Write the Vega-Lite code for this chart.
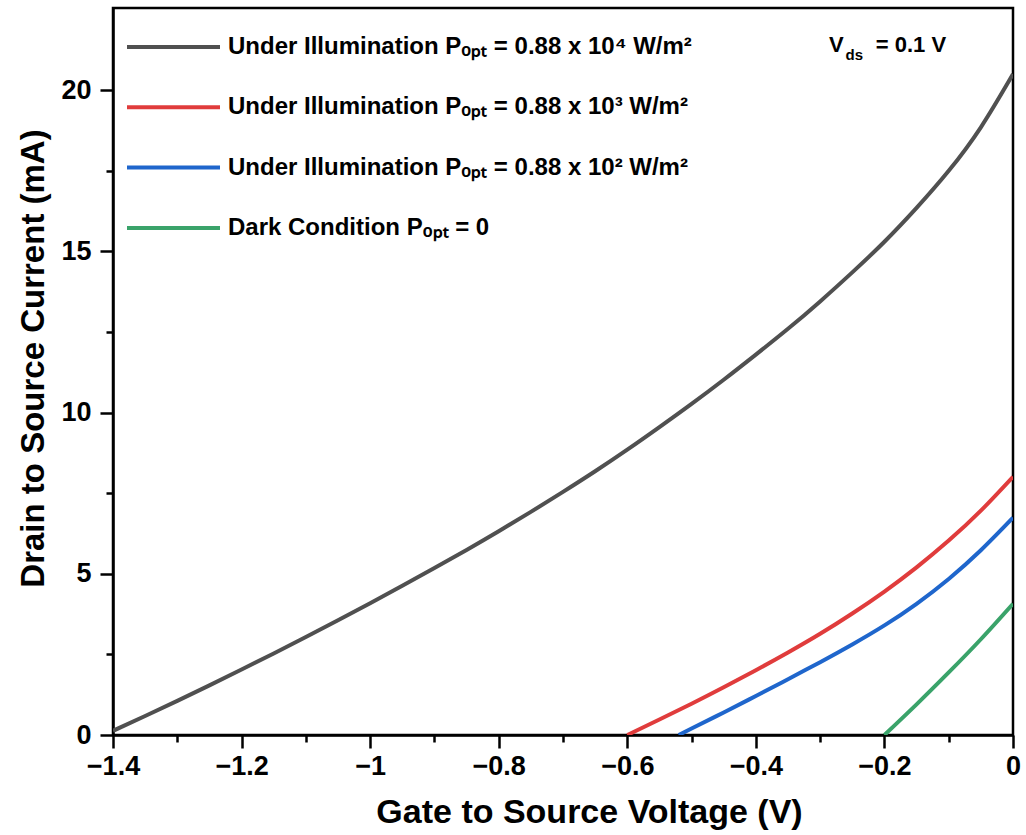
{
  "$schema": "https://vega.github.io/schema/vega-lite/v6.json",
  "width": 900,
  "height": 727,
  "autosize": {"type": "none"},
  "padding": {"left": 113, "top": 8, "right": 13, "bottom": 100},
  "background": "white",
  "config": {
    "view": {"stroke": "black", "strokeWidth": 2.5},
    "font": "Liberation Sans",
    "axis": {
      "domainColor": "black", "domainWidth": 2.5,
      "tickColor": "black", "tickWidth": 2.5, "tickSize": 13,
      "labelFont": "Liberation Sans", "labelFontWeight": "bold", "labelFontSize": 27, "labelColor": "black",
      "titleFont": "Liberation Sans", "titleFontWeight": "bold", "titleFontSize": 34, "titleColor": "black",
      "grid": false
    }
  },
  "datasets": {
    "curves": [
      {"s": "g4", "v": -1.4, "i": 0.13}, {"s": "g4", "v": -1.35, "i": 0.59}, {"s": "g4", "v": -1.3, "i": 1.06},
      {"s": "g4", "v": -1.25, "i": 1.54}, {"s": "g4", "v": -1.2, "i": 2.03}, {"s": "g4", "v": -1.15, "i": 2.53},
      {"s": "g4", "v": -1.1, "i": 3.04}, {"s": "g4", "v": -1.05, "i": 3.56}, {"s": "g4", "v": -1.0, "i": 4.09},
      {"s": "g4", "v": -0.95, "i": 4.63}, {"s": "g4", "v": -0.9, "i": 5.18}, {"s": "g4", "v": -0.85, "i": 5.74},
      {"s": "g4", "v": -0.8, "i": 6.32}, {"s": "g4", "v": -0.75, "i": 6.92}, {"s": "g4", "v": -0.7, "i": 7.54},
      {"s": "g4", "v": -0.65, "i": 8.18}, {"s": "g4", "v": -0.6, "i": 8.85}, {"s": "g4", "v": -0.55, "i": 9.55},
      {"s": "g4", "v": -0.5, "i": 10.27}, {"s": "g4", "v": -0.45, "i": 11.02}, {"s": "g4", "v": -0.4, "i": 11.8},
      {"s": "g4", "v": -0.35, "i": 12.6}, {"s": "g4", "v": -0.3, "i": 13.45}, {"s": "g4", "v": -0.25, "i": 14.35},
      {"s": "g4", "v": -0.2, "i": 15.3}, {"s": "g4", "v": -0.15, "i": 16.35}, {"s": "g4", "v": -0.1, "i": 17.5},
      {"s": "g4", "v": -0.05, "i": 18.85}, {"s": "g4", "v": 0.0, "i": 20.5},
      {"s": "g3", "v": -0.6, "i": 0.0}, {"s": "g3", "v": -0.55, "i": 0.48}, {"s": "g3", "v": -0.5, "i": 0.97},
      {"s": "g3", "v": -0.45, "i": 1.48}, {"s": "g3", "v": -0.4, "i": 2.01}, {"s": "g3", "v": -0.35, "i": 2.56},
      {"s": "g3", "v": -0.3, "i": 3.14}, {"s": "g3", "v": -0.25, "i": 3.77}, {"s": "g3", "v": -0.2, "i": 4.45},
      {"s": "g3", "v": -0.15, "i": 5.2}, {"s": "g3", "v": -0.1, "i": 6.03}, {"s": "g3", "v": -0.05, "i": 6.96},
      {"s": "g3", "v": 0.0, "i": 8.01},
      {"s": "g2", "v": -0.52, "i": 0.0}, {"s": "g2", "v": -0.5, "i": 0.2}, {"s": "g2", "v": -0.45, "i": 0.7},
      {"s": "g2", "v": -0.4, "i": 1.21}, {"s": "g2", "v": -0.35, "i": 1.73}, {"s": "g2", "v": -0.3, "i": 2.26},
      {"s": "g2", "v": -0.25, "i": 2.81}, {"s": "g2", "v": -0.2, "i": 3.4}, {"s": "g2", "v": -0.15, "i": 4.07},
      {"s": "g2", "v": -0.1, "i": 4.84}, {"s": "g2", "v": -0.05, "i": 5.73}, {"s": "g2", "v": 0.0, "i": 6.74},
      {"s": "g0", "v": -0.2, "i": 0.0}, {"s": "g0", "v": -0.15, "i": 0.95}, {"s": "g0", "v": -0.1, "i": 1.94},
      {"s": "g0", "v": -0.05, "i": 2.97}, {"s": "g0", "v": 0.0, "i": 4.07}
    ]
  },
  "layer": [
    {
      "data": {"name": "curves"},
      "mark": {"type": "line", "strokeWidth": 4, "interpolate": "natural", "clip": true},
      "encoding": {
        "x": {"field": "v", "type": "quantitative",
              "scale": {"domain": [-1.4, 0], "nice": false, "zero": false},
              "axis": {"title": "Gate to Source Voltage (V)", "values": [-1.4, -1.2, -1.0, -0.8, -0.6, -0.4, -0.2, 0],
                       "format": ".1~f", "labelPadding": 5, "labelFlush": false, "orient": "bottom",
                       "titleX": 476, "titleY": 87, "titleBaseline": "alphabetic", "titleAlign": "center"}},
        "y": {"field": "i", "type": "quantitative",
              "scale": {"domain": [0, 22.55], "nice": false},
              "axis": {"title": "Drain to Source Current (mA)", "values": [0, 5, 10, 15, 20], "labelPadding": 9,
                       "titleFontSize": 33, "labelFlush": false, "orient": "left",
                       "titleX": -80, "titleY": 350, "titleBaseline": "middle", "titleAlign": "center", "titleAngle": -90}},
        "color": {"field": "s", "type": "nominal",
                  "scale": {"domain": ["g4", "g3", "g2", "g0"], "range": ["#505050", "#e03c3c", "#1f66cc", "#3aa36a"]},
                  "legend": {
                    "orient": "none", "legendX": 12, "legendY": 11, "title": null,
                    "symbolType": "stroke", "symbolSize": 8649, "symbolStrokeWidth": 4,
                    "clipHeight": 56, "rowPadding": 4.3, "labelOffset": 6, "padding": 0,
                    "labelFont": "Liberation Sans", "labelFontWeight": "bold", "labelFontSize": 24, "labelColor": "black",
                    "labelLimit": 700,
                    "labelExpr": "datum.value == 'g4' ? 'Under Illumination Pₒₚₜ = 0.88 x 10⁴ W/m²' : datum.value == 'g3' ? 'Under Illumination Pₒₚₜ = 0.88 x 10³ W/m²' : datum.value == 'g2' ? 'Under Illumination Pₒₚₜ = 0.88 x 10² W/m²' : 'Dark Condition Pₒₚₜ = 0'"
                  }}
      }
    },
    {
      "data": {"values": [{}]},
      "mark": {"type": "text", "text": "V", "font": "Liberation Sans", "fontWeight": "bold", "fontSize": 22, "align": "left", "baseline": "alphabetic", "color": "black"},
      "encoding": {
        "x": {"datum": -0.2862, "type": "quantitative",
              "axis": {"orient": "bottom", "values": [-1.3, -1.1, -0.9, -0.7, -0.5, -0.3, -0.1], "labels": false, "tickSize": 7, "domain": false, "title": null}},
        "y": {"datum": 21.18, "type": "quantitative",
              "axis": {"orient": "left", "values": [2.5, 7.5, 12.5, 17.5], "labels": false, "tickSize": 7, "domain": false, "title": null}}
      }
    },
    {
      "data": {"values": [{}]},
      "mark": {"type": "text", "text": "ds", "font": "Liberation Sans", "fontWeight": "bold", "fontSize": 15, "align": "left", "baseline": "alphabetic", "color": "black"},
      "encoding": {
        "x": {"datum": -0.2605, "type": "quantitative", "axis": null},
        "y": {"datum": 20.93, "type": "quantitative", "axis": null}
      }
    },
    {
      "data": {"values": [{}]},
      "mark": {"type": "text", "text": "= 0.1 V", "font": "Liberation Sans", "fontWeight": "bold", "fontSize": 22, "align": "left", "baseline": "alphabetic", "color": "black"},
      "encoding": {
        "x": {"datum": -0.2135, "type": "quantitative", "axis": null},
        "y": {"datum": 21.18, "type": "quantitative", "axis": null}
      }
    }
  ],
  "resolve": {"axis": {"x": "independent", "y": "independent"}}
}
